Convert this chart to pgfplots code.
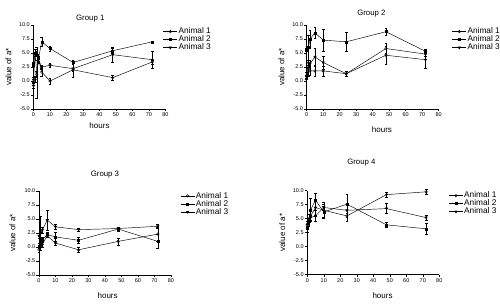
\documentclass[border=0pt]{standalone}
\usepackage{pgfplots}
\pgfplotsset{compat=1.18}
\usepackage{fontspec}
\setmainfont{Liberation Sans}
\pgfplotsset{
 grp/.style={
  scale only axis, width=132pt, height=84pt,
  xmin=0, xmax=80, ymin=-5, ymax=10,
  axis x line*=bottom, axis y line*=left,
  xtick={0,10,...,80}, ytick={-5,-2.5,0,2.5,5,7.5,10},
  yticklabel style={/pgf/number format/.cd, fixed, fixed zerofill, precision=1},
  /pgf/number format/assume math mode=true,
  tick label style={font=\fontsize{5.5}{6}\selectfont, inner sep=1pt},
  tick align=outside, major tick length=2.5pt,
  tick style={black, line width=0.5pt},
  axis line style={line width=0.6pt},
  xlabel=hours, ylabel={value of a*},
  label style={font=\fontsize{8}{9}\selectfont},
  ylabel style={at={(rel axis cs:-0.19,0.5)}, anchor=center, rotate=0},
  title style={font=\fontsize{7.8}{8}\selectfont, anchor=center},
  legend style={draw=none, fill=none, font=\fontsize{8.3}{9}\selectfont, anchor=north west, inner sep=0pt, row sep=-1.5pt, nodes={inner sep=1pt}},
  legend cell align=left,
  legend image code/.code={\draw[mark repeat=2,mark phase=2] plot coordinates {(0pt,0pt)(7pt,0pt)(14pt,0pt)};},
  clip=false,
 },
 eb/.style={black, line width=0.45pt, error bars/y dir=both, error bars/y explicit, error bars/error bar style={line width=0.4pt, solid, black}, error bars/error mark options={rotate=90, mark size=1.4pt, line width=0.4pt, black}},
 a1/.style={eb, mark=o, mark size=1.3pt, mark options={fill=white, solid, line width=0.45pt}},
 a2/.style={eb, mark=square*, mark size=1pt, mark options={solid}},
 a3/.style={eb, mark=triangle*, mark size=1.4pt, mark options={solid, rotate=180}},
}
\begin{document}
\begin{tikzpicture}
\path[use as bounding box] (0,0) rectangle (500pt,307pt);
% Group 1
\begin{axis}[grp, at={(33.5pt,198pt)}, anchor=south west,
  title={Group 1}, title style={at={(rel axis cs:0.43,1.0)}},
  xlabel style={at={(rel axis cs:0.5,-0.20)}, anchor=center},
  legend style={at={(rel axis cs:0.98,0.98)}}]
\addplot[a1] coordinates {(0,-0.8) +- (0,0.4) (1,0.3) +- (0,0.5) (2,1.2) +- (0,0.6) (3,3.9) +- (0,0.5) (5,1.6) +- (0,0.7) (10,0.0) +- (0,0.5) (24,2.0) +- (0,0.3) (48,0.6) +- (0,0.5) (72,3.4) +- (0,0.4)};
\addplot[a2] coordinates {(0,3.0) +- (0,0.3) (1,5.0) +- (0,0.6) (2,4.6) +- (0,0.8) (3,4.0) +- (0,0.5) (5,7.0) +- (0,0.8) (10,5.8) +- (0,0.5) (24,3.3) +- (0,0.3) (48,5.4) +- (0,0.4) (72,7.0) +- (0,0)};
\addplot[a3] coordinates {(0,0.2) +- (0,0.5) (1,4.8) +- (0,0.4) (2,1.5) +- (0,4.6) (3,3.8) +- (0,0.6) (5,2.5) +- (0,0.4) (10,2.8) +- (0,0.3) (24,2.2) +- (0,1.5) (48,4.7) +- (0,1.3) (72,3.8) +- (0,1.5)};
\legend{Animal 1, Animal 2, Animal 3}
\end{axis}
% Group 2
\begin{axis}[grp, at={(306.7pt,198pt)}, anchor=south west,
  title={Group 2}, title style={at={(rel axis cs:0.49,1.07)}},
  xlabel style={at={(rel axis cs:0.57,-0.24)}, anchor=center},
  legend style={at={(rel axis cs:1.10,0.98)}}]
\addplot[a1] coordinates {(0,1.0) +- (0,0.5) (1,3.3) +- (0,0.5) (2,1.8) +- (0,0.8) (5,1.8) +- (0,1.0) (10,1.8) +- (0,0.9) (24,1.3) +- (0,0.5) (48,5.8) +- (0,0.9) (72,4.8) +- (0,0.4)};
\addplot[a2] coordinates {(0,5.6) +- (0,0.3) (1,6.0) +- (0,2.2) (2,7.5) +- (0,1.6) (5,8.6) +- (0,1.0) (10,7.3) +- (0,2.0) (24,7.0) +- (0,1.7) (48,8.8) +- (0,0.6) (72,5.3) +- (0,0.4)};
\addplot[a3] coordinates {(0,0.7) +- (0,0.4) (1,2.3) +- (0,1.5) (2,3.1) +- (0,0.6) (5,4.3) +- (0,1.6) (10,3.3) +- (0,1.2) (24,1.3) +- (0,0.5) (48,4.6) +- (0,1.6) (72,3.8) +- (0,1.5)};
\legend{Animal 1, Animal 2, Animal 3}
\end{axis}
% Group 3
\begin{axis}[grp, at={(39pt,32pt)}, anchor=south west,
  title={Group 3}, title style={at={(rel axis cs:0.5,1.12)}},
  xlabel style={at={(rel axis cs:0.52,-0.25)}, anchor=center},
  ylabel style={at={(rel axis cs:-0.2,0.5)}},
  legend style={at={(rel axis cs:1.07,1.0)}}]
\addplot[a1] coordinates {(0,-0.5) +- (0,0.5) (1,0.0) +- (0,0.6) (2,0.5) +- (0,0.5) (5,2.0) +- (0,0.3) (10,0.7) +- (0,0.3) (24,-0.5) +- (0,0.4) (48,1.0) +- (0,0.6) (72,2.3) +- (0,1.3)};
\addplot[a2] coordinates {(0,0.2) +- (0,0.5) (1,0.5) +- (0,0.5) (2,1.3) +- (0,0.5) (5,2.2) +- (0,0.4) (10,1.8) +- (0,0.8) (24,1.2) +- (0,0.5) (48,3.2) +- (0,0.3) (72,1.0) +- (0,1.3)};
\addplot[a3] coordinates {(0,2.0) +- (0,0.5) (1,2.5) +- (0,3.0) (2,3.0) +- (0,0.5) (5,4.8) +- (0,1.8) (10,3.6) +- (0,0.5) (24,3.1) +- (0,0.3) (48,3.3) +- (0,0.2) (72,3.7) +- (0,0.4)};
\legend{Animal 1, Animal 2, Animal 3}
\end{axis}
% Group 4
\begin{axis}[grp, at={(307.3pt,32.3pt)}, anchor=south west,
  title={Group 4}, title style={at={(rel axis cs:0.41,1.26)}},
  xlabel style={at={(rel axis cs:0.57,-0.25)}, anchor=center},
  legend style={at={(rel axis cs:1.07,1.0)}}]
\addplot[a1] coordinates {(0,4.0) +- (0,0.5) (1,5.0) +- (0,0.8) (2,5.5) +- (0,1.0) (5,7.0) +- (0,1.5) (10,6.5) +- (0,1.5) (24,5.5) +- (0,1.0) (48,9.3) +- (0,0.4) (72,9.8) +- (0,0.5)};
\addplot[a2] coordinates {(0,3.3) +- (0,0.8) (1,4.5) +- (0,0.5) (2,6.6) +- (0,2.0) (5,8.3) +- (0,1.3) (10,6.2) +- (0,1.0) (24,7.6) +- (0,1.7) (48,3.9) +- (0,0.5) (72,3.2) +- (0,1.0)};
\addplot[a3] coordinates {(0,3.6) +- (0,0.5) (1,4.2) +- (0,0.5) (2,5.2) +- (0,0.5) (5,5.5) +- (0,1.0) (10,7.0) +- (0,0.5) (24,6.5) +- (0,1.2) (48,6.8) +- (0,0.9) (72,5.2) +- (0,0.4)};
\legend{Animal 1, Animal 2, Animal 3}
\end{axis}
\end{tikzpicture}
\end{document}
